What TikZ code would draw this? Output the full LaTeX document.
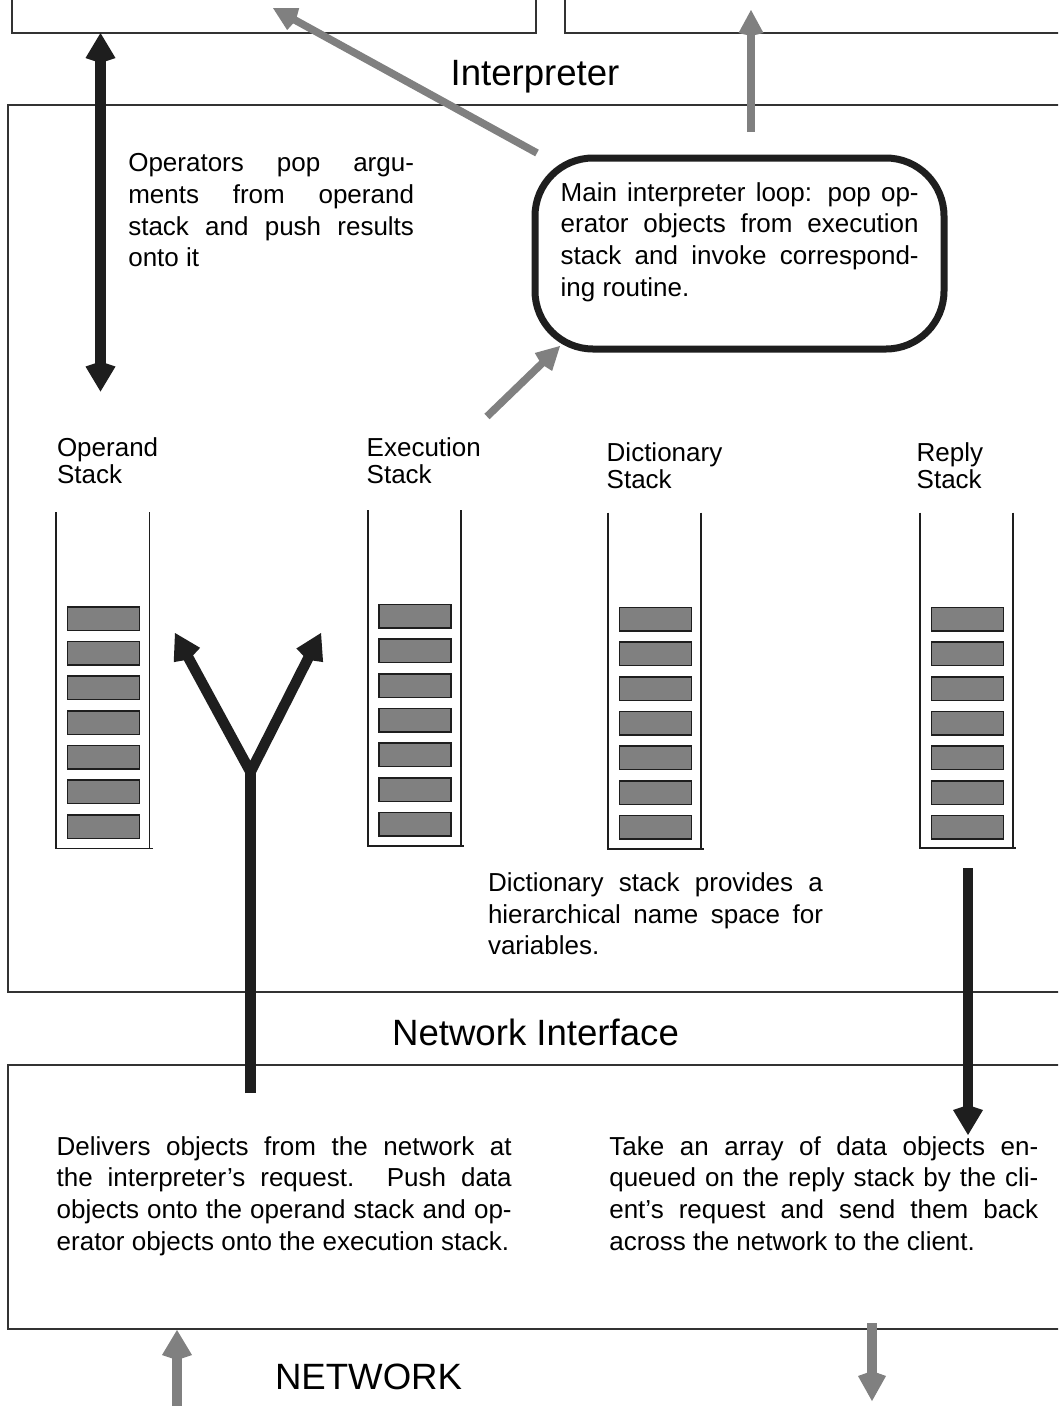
\documentclass[tikz,border=0pt]{standalone}
\usepackage{fontspec}
\setmainfont{Liberation Sans}
\usetikzlibrary{arrows.meta}
\definecolor{ink}{RGB}{30,30,30}
\definecolor{gry}{RGB}{128,128,128}
\definecolor{frm}{RGB}{51,51,51}
\newcommand\linew{300pt}
\newcommand\jl[1]{\hbox to \linew{#1}}
\newcommand\parblock[2]{\vtop{\baselineskip=31.7pt\relax\renewcommand\linew{#1}#2}}
\tikzset{
  txt/.style={inner sep=0pt, outer sep=0pt, font=\fontsize{26}{31.7}\selectfont, text=black},
  lbl/.style={inner sep=0pt, outer sep=0pt, font=\fontsize{26}{27}\selectfont, text=black},
  ttl/.style={inner sep=0pt, outer sep=0pt, font=\fontsize{36.6}{40}\selectfont, text=black},
  frame/.style={draw=frm, line width=2pt},
  stackline/.style={draw=ink, line width=1.6pt},
  cell/.style={draw=ink, fill=gry, line width=1.6pt, minimum width=72pt, minimum height=23.5pt, inner sep=0pt, anchor=north west},
  blk/.style={draw=ink, line width=10.5pt},
  gar/.style={draw=gry, line width=7.5pt},
  bhead/.style={-{Kite[length=30pt,width=30pt,inset=5pt]}},
  bboth/.style={{Kite[length=30pt,width=30pt,inset=5pt]}-{Kite[length=30pt,width=30pt,inset=5pt]}},
  ghead/.style={-{Kite[length=26pt,width=25pt,inset=3pt]}},
}
\begin{document}
\begin{tikzpicture}[x=1pt,y=-1pt]
\useasboundingbox (0,0) rectangle (1058,1406);
\clip (0,0) rectangle (1058,1406);
\fill[white] (0,0) rectangle (1058,1406);

% frames
\draw[frame] (12,-5) -- (12,32.5) -- (536,32.5) -- (536,-5);
\draw[frame] (565,-5) -- (565,32.5) -- (1070,32.5);
\draw[frame] (1070,104.5) -- (7.5,104.5) -- (7.5,992) -- (1070,992);
\draw[frame] (1070,1065) -- (7.5,1065) -- (7.5,1328.5) -- (1070,1328.5);

% titles
\node[ttl, anchor=base] (tinterp) at (535,85) {Interpreter};
\node[ttl, anchor=base] (tnet) at (535.5,1045) {Network Interface};
\node[ttl, anchor=base west] (tnetwork) at (275,1389) {NETWORK};

% main loop
\node[draw=ink, line width=7pt, rounded corners=58pt, minimum width=409pt, minimum height=191pt, inner sep=0pt] (loop) at (739.5,253.5) {};
\node[txt, anchor=base west] (looptext) at (560.7,201) {\parblock{358pt}{%
\jl{Main interpreter loop: pop op-}%
\jl{erator objects from execution}%
\jl{stack and invoke correspond-}%
\hbox{ing routine.}}};

\node[txt, anchor=base west] (ops) at (128.3,171.7) {\parblock{285.7pt}{%
\jl{Operators pop argu-}%
\jl{ments from operand}%
\jl{stack and push results}%
\hbox{onto it}}};

\node[txt, anchor=base west] (dict) at (488,891.5) {\parblock{335pt}{%
\jl{Dictionary stack provides a}%
\jl{hierarchical name space for}%
\hbox{variables.}}};

\node[txt, anchor=base west] (deliv) at (56.7,1155) {\parblock{455pt}{%
\jl{Delivers objects from the network at}%
\jl{the interpreter’s request.  Push data}%
\jl{objects onto the operand stack and op-}%
\hbox{erator objects onto the execution stack.}}};

\node[txt, anchor=base west] (take) at (609.3,1155) {\parblock{429pt}{%
\jl{Take an array of data objects en-}%
\jl{queued on the reply stack by the cli-}%
\jl{ent’s request and send them back}%
\hbox{across the network to the client.}}};

% stack labels (anchored at the baseline of their second line)
\node[lbl, anchor=base west, align=left] (lopd) at (57,483.5) {Operand\\Stack};
\node[lbl, anchor=base west, align=left] (lexe) at (366.7,483) {Execution\\Stack};
\node[lbl, anchor=base west, align=left] (ldic) at (606.7,488.5) {Dictionary\\Stack};
\node[lbl, anchor=base west, align=left] (lrep) at (916.7,488.5) {Reply\\Stack};

% stacks
\draw[stackline] (55.7,512) -- (55.7,848.3) -- (152.5,848.3);
\draw[stackline] (149.3,512) -- (149.3,848.3);
\foreach \i in {0,...,6} \node[cell] (opd\i) at (66.7,606+34.67*\i) {};

\draw[stackline] (367.7,510) -- (367.7,846) -- (464,846);
\draw[stackline] (461,510) -- (461,846);
\foreach \i in {0,...,6} \node[cell] (exe\i) at (378.3,603.7+34.67*\i) {};

\draw[stackline] (607.7,512.7) -- (607.7,849) -- (704,849);
\draw[stackline] (701,512.7) -- (701,849);
\foreach \i in {0,...,6} \node[cell] (dic\i) at (618.5,606.7+34.67*\i) {};

\draw[stackline] (920,512.7) -- (920,847.7) -- (1016,847.7);
\draw[stackline] (1013,512.7) -- (1013,847.7);
\foreach \i in {0,...,6} \node[cell] (rep\i) at (930.7,606.7+34.67*\i) {};

% connector end points
\coordinate (opsT) at (100.5,33);
\coordinate (opsB) at (100.5,391.5);
\coordinate (g1tail) at (537,153);
\coordinate (g1tip) at (273,8);
\coordinate (g2tail) at (751,132);
\coordinate (g2tip) at (751,10);
\coordinate (g3tail) at (487,416.5);
\coordinate (g3tip) at (560,346);
\coordinate (ybot) at (250.5,1093);
\coordinate (yj) at (250.5,772);
\coordinate (ytipL) at (175,633);
\coordinate (ytipR) at (321,633);
\coordinate (rtail) at (968,868);
\coordinate (rtip) at (968,1135);
\coordinate (nbot) at (177,1410);
\coordinate (ntip) at (177,1330);
\coordinate (otail) at (872,1323);
\coordinate (otip) at (872,1401);

% arrows
\draw[blk, bboth] (opsT) -- (opsB);
\draw[gar, ghead] (g1tail) -- (g1tip);
\draw[gar, ghead] (g2tail) -- (g2tip);
\draw[gar, ghead] (g3tail) -- (g3tip);
\draw[blk] (ybot) -- (yj);
\draw[blk, bboth] (ytipL) -- (yj) -- (ytipR);
\draw[blk, bhead] (rtail) -- (rtip);
\draw[gar, line width=10pt, -{Kite[length=30pt,width=30pt,inset=5pt]}] (nbot) -- (ntip);
\draw[gar, line width=10pt, -{Kite[length=30pt,width=28pt,inset=5pt]}] (otail) -- (otip);
\end{tikzpicture}
\end{document}
